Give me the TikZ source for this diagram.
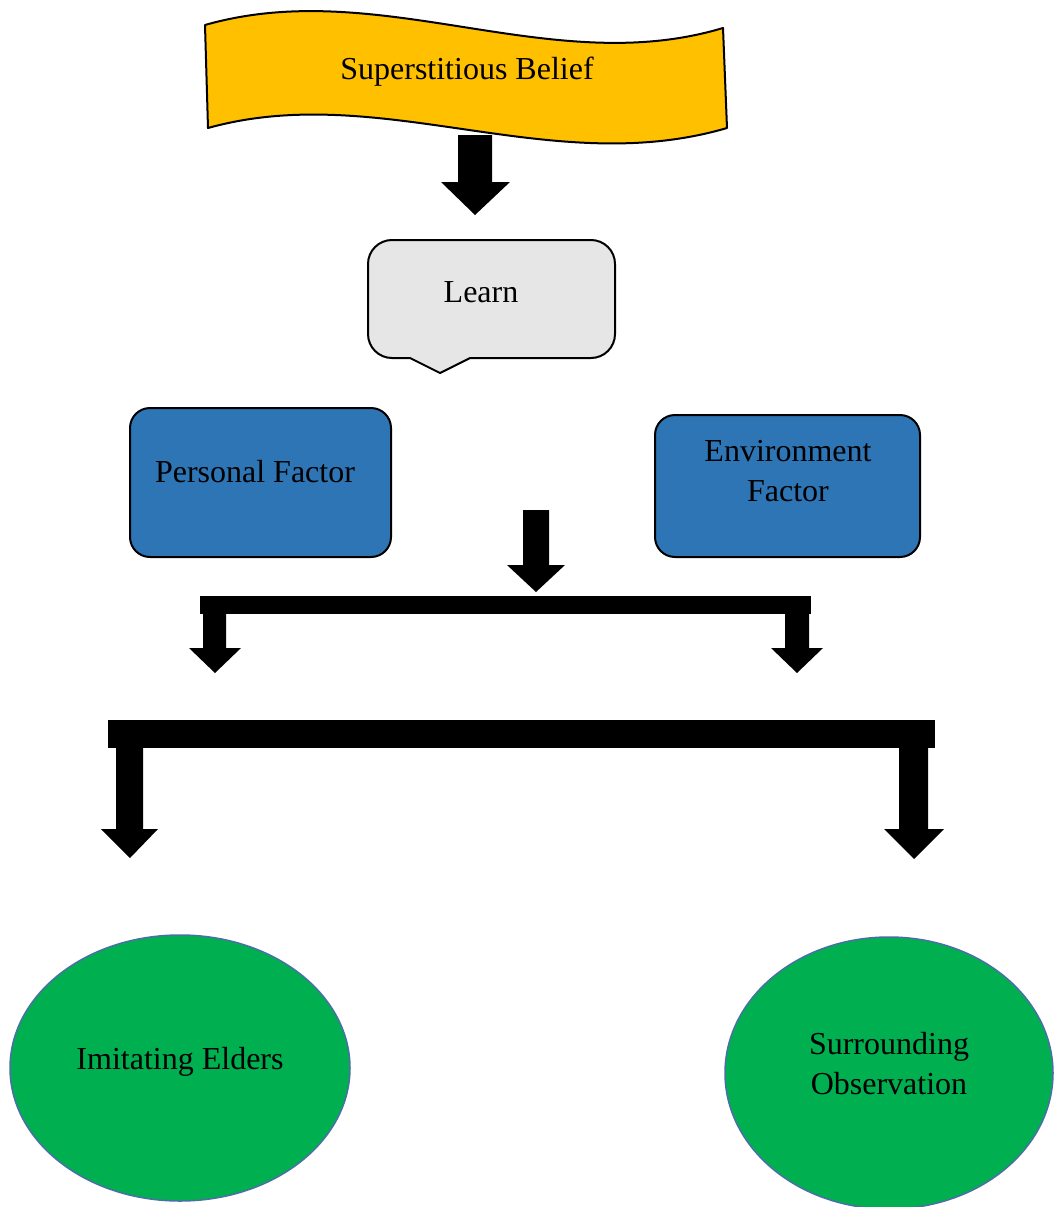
\documentclass[tikz,border=0pt]{standalone}
\usepackage{fontspec}
\setmainfont{Liberation Serif}
\usetikzlibrary{shapes.geometric}
\definecolor{bannergold}{HTML}{FFC000}
\definecolor{boxblue}{HTML}{2E75B6}
\definecolor{leafgreen}{HTML}{00B050}
\definecolor{calloutgrey}{HTML}{E6E6E6}
\definecolor{ellborder}{HTML}{4A6FA5}
\begin{document}
\begin{tikzpicture}[x=1pt,y=-1pt,
  lbl/.style={font=\fontsize{32}{40}\selectfont, align=center, inner sep=0pt, text=black},
  factorbox/.style={draw=black, line width=2pt, fill=boxblue, rounded corners=20pt, inner sep=0pt},
  leaf/.style={ellipse, draw=ellborder, line width=1.5pt, fill=leafgreen, inner sep=0pt},
  blockarrow/.style={fill=black}
]
\useasboundingbox (0,0) rectangle (1058,1207);

% Banner
\draw[line width=2pt, fill=bannergold, line join=round]
  (205,25) .. controls (380,-25) and (550,80) .. (723,28)
  -- (727,128) .. controls (550,180) and (380,80) .. (208,128) -- cycle;
\node[lbl] (belief) at (467,72) {Superstitious Belief};

% Arrow 1
\fill[blockarrow] (458,135) -- (492,135) -- (492,182) -- (510,182) -- (475,215) -- (441,182) -- (458,182) -- cycle;

% Learn callout
\draw[line width=2pt, fill=calloutgrey, line join=miter]
  (440,373) -- (410,358) -- (392,358)
  arc[start angle=90, end angle=180, radius=24] -- (368,264)
  arc[start angle=180, end angle=270, radius=24] -- (591,240)
  arc[start angle=270, end angle=360, radius=24] -- (615,334)
  arc[start angle=0, end angle=90, radius=24] -- (470,358) -- cycle;
\node[lbl] (learn) at (481,292) {Learn};

% Factor boxes
\node[factorbox, minimum width=261pt, minimum height=149pt] (pfbox) at (260.5,482.5) {};
\node[lbl] (pf) at (255,472) {Personal Factor};
\node[factorbox, minimum width=265pt, minimum height=142pt] (efbox) at (787.5,486) {};
\node[lbl] (ef) at (788,471) {Environment\\Factor};

% Arrow 2
\fill[blockarrow] (523,510) -- (549,510) -- (549,565) -- (565,565) -- (536,592) -- (507,565) -- (523,565) -- cycle;

% Bracket 1
\fill[blockarrow] (200,596) rectangle (811,614);
\fill[blockarrow] (203,613) -- (226,613) -- (226,648) -- (241,648) -- (215,673) -- (189,648) -- (203,648) -- cycle;
\fill[blockarrow] (785,613) -- (809,613) -- (809,648) -- (823,648) -- (797,673) -- (771,648) -- (785,648) -- cycle;

% Bracket 2
\fill[blockarrow] (108,720) rectangle (935,748);
\fill[blockarrow] (116,747) -- (143,747) -- (143,829) -- (158,829) -- (130,858) -- (101,829) -- (116,829) -- cycle;
\fill[blockarrow] (899,747) -- (928,747) -- (928,829) -- (944,829) -- (914,859) -- (884,829) -- (899,829) -- cycle;

% Leaves
\node[leaf, minimum width=340pt, minimum height=266pt] (elders) at (180,1068) {};
\node[lbl] (eldertxt) at (180,1062) {Imitating Elders};
\node[leaf, minimum width=328pt, minimum height=272pt] (obs) at (889,1073) {};
\node[lbl] (obstxt) at (889,1064) {Surrounding\\Observation};
\end{tikzpicture}
\end{document}
